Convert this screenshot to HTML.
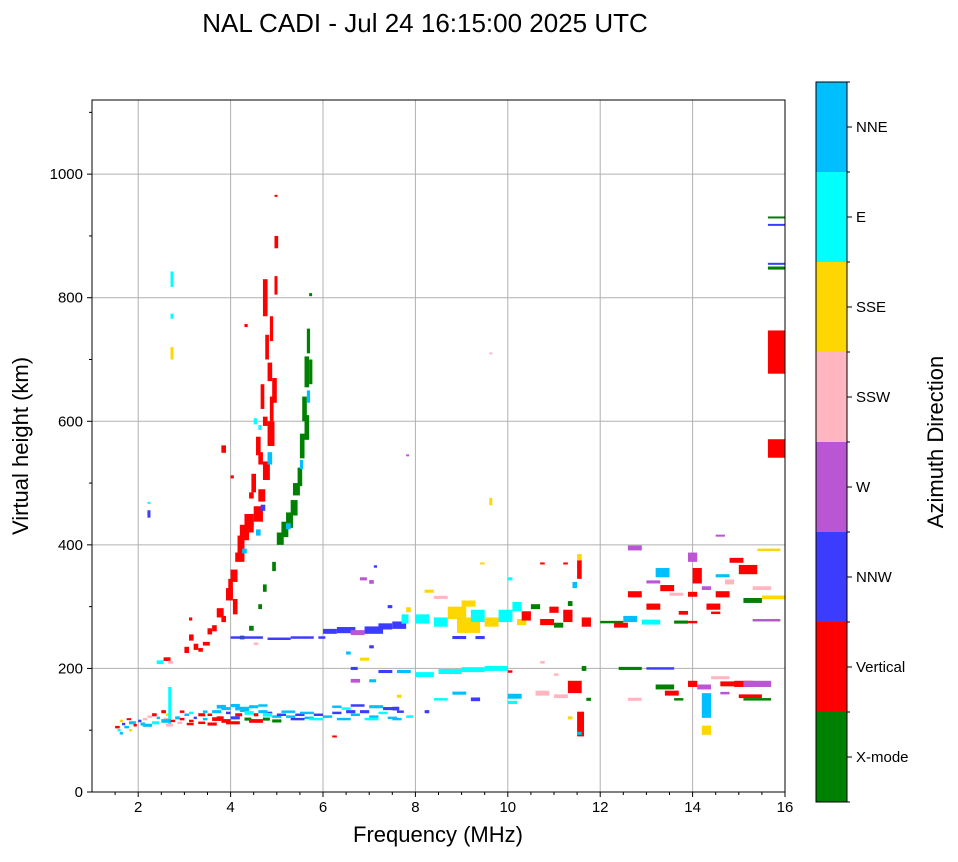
<!DOCTYPE html>
<html><head><meta charset="utf-8"><style>
body{margin:0;background:#fff;}
svg text{font-family:"Liberation Sans",sans-serif;}
</style></head><body>
<svg id="chart" width="958" height="857" viewBox="0 0 958 857" xmlns="http://www.w3.org/2000/svg">
<rect width="958" height="857" fill="#fff"/>
<text x="425" y="32" font-size="26" text-anchor="middle">NAL CADI - Jul 24 16:15:00 2025 UTC</text>
<g id="grid"></g>
<g id="marks"></g>
<rect x="92" y="100" width="693" height="692" fill="none" stroke="#000" stroke-width="1"/>
<g id="axes"></g>
<text x="438" y="842" font-size="22" text-anchor="middle">Frequency (MHz)</text>
<text transform="translate(28,446) rotate(-90)" font-size="22" text-anchor="middle">Virtual height (km)</text>
<g id="cbar"></g>
<text transform="translate(943,442) rotate(-90)" font-size="22" text-anchor="middle">Azimuth Direction</text>
</svg>
<script>
const directions=["X-mode","Vertical","NNW","W","SSW","SSE","E","NNE"];
const dirColors=["#008000","#ff0000","#3c3cff","#ba55d3","#ffb6c1","#ffd700","#00ffff","#00bfff"];
const xTicks=[2,4,6,8,10,12,14,16];
const yTicks=[0,200,400,600,800,1000];
// echoes: [frequency MHz, height km, direction index, freq width MHz, height span km]
const echoes=[
[1.5,105,1,0.1,4],[1.55,100,6,0.07,4],[1.6,95,7,0.07,4],[1.65,110,2,0.07,4],[1.7,105,7,0.1,4],[1.8,112,7,0.15,5],[1.8,100,5,0.07,4],[1.9,108,1,0.07,4],[2.0,115,2,0.07,4],[2.05,110,7,0.1,5],[2.1,118,4,0.1,4],[2.2,122,4,0.1,4],[2.3,125,1,0.1,5],[2.4,120,7,0.07,4],[2.5,130,1,0.1,5],[2.55,118,4,0.15,4],[2.6,125,5,0.07,4],[2.65,140,6,0.05,60],[2.7,115,1,0.1,4],[2.8,120,7,0.1,5],[2.85,112,4,0.1,4],[2.9,118,1,0.1,4],[3.0,125,7,0.1,4],[3.05,110,1,0.15,4],[3.1,115,1,0.1,4],[3.2,120,2,0.07,4],[3.3,112,1,0.15,4],[3.4,118,7,0.1,4],[3.5,125,1,0.1,4],[3.5,110,1,0.2,5],[3.6,130,7,0.2,5],[3.7,120,1,0.15,5],[3.8,135,7,0.2,5],[3.9,128,2,0.1,4],[3.9,112,1,0.3,5],[4.0,140,7,0.2,5],[4.1,125,1,0.15,5],[4.2,132,7,0.2,5],[4.3,118,0,0.15,5],[4.4,138,7,0.2,5],[4.5,125,1,0.1,5],[4.6,130,7,0.2,5],[4.7,118,0,0.15,5],[4.8,128,2,0.1,4],[4.9,122,7,0.2,4],[5.0,125,2,0.2,4],[5.2,122,7,0.2,4],[5.4,125,2,0.2,4],[5.6,120,7,0.2,4],[5.8,125,2,0.2,4],[6.0,122,7,0.2,4],[6.2,128,2,0.2,4],[6.2,138,7,0.2,4],[6.4,135,6,0.2,4],[6.5,130,2,0.2,5],[6.6,125,7,0.2,4],[6.8,130,2,0.2,5],[7.0,122,7,0.2,4],[7.2,128,6,0.2,4],[7.4,120,7,0.2,4],[7.6,130,2,0.15,4],[7.8,122,6,0.15,4],[6.2,90,1,0.1,3],
[1.6,115,5,0.07,4],[1.75,118,1,0.1,3],[2.1,108,7,0.2,5],[2.3,112,6,0.15,5],[2.5,115,7,0.2,6],[2.6,108,4,0.15,4],[2.9,130,1,0.1,4],[3.1,128,6,0.1,4],[3.3,125,1,0.15,5],[3.4,130,7,0.1,4],[3.6,118,1,0.2,6],[3.7,138,7,0.2,6],[3.8,115,1,0.2,6],[4.0,120,2,0.2,5],[4.1,135,7,0.3,6],[4.3,128,6,0.2,6],[4.4,115,1,0.3,6],[4.6,140,7,0.2,4],[4.7,125,6,0.2,6],[4.9,115,0,0.2,5],[5.1,130,7,0.3,4],[5.3,118,2,0.3,4],[5.5,128,7,0.3,4],[5.7,118,6,0.3,4],[6.3,118,7,0.3,4],[6.6,140,2,0.3,4],[6.9,118,6,0.3,4],[7.0,138,7,0.3,5],[7.3,135,2,0.3,5],[7.5,118,7,0.2,4],
[2.4,210,6,0.15,6],[2.55,215,1,0.15,6],[2.65,210,4,0.1,5],[2.7,830,6,0.05,25],[2.7,710,5,0.05,20],[2.7,770,6,0.05,8],[2.2,450,2,0.05,12],[2.2,468,6,0.05,3],
[3.0,230,1,0.1,10],[3.1,250,1,0.1,10],[3.1,280,1,0.07,5],[3.2,235,1,0.1,10],[3.3,230,1,0.1,6],[3.4,240,1,0.15,6],[3.5,260,1,0.1,10],[3.6,265,1,0.1,10],[3.7,290,1,0.15,15],[3.8,280,1,0.1,10],[3.8,555,1,0.1,12],[3.9,320,1,0.15,20],[4.0,350,1,0.15,20],[4.0,510,1,0.07,5],[4.1,380,1,0.2,15],[4.2,420,1,0.2,25],[4.3,440,1,0.2,20],[4.3,755,1,0.07,5],[4.4,480,1,0.1,10],[4.5,450,1,0.2,25],[4.6,480,1,0.15,20],[4.6,540,1,0.1,20],[4.65,460,2,0.1,10],[4.7,520,1,0.15,30],[4.7,600,1,0.1,15],[4.7,800,1,0.1,60],[4.8,580,1,0.15,40],[4.8,680,1,0.1,30],[4.85,750,1,0.07,40],[4.9,650,1,0.1,40],[4.95,890,1,0.08,20],[4.95,965,1,0.05,3],[4.5,600,6,0.07,10],[4.8,540,7,0.1,20],
[3.95,330,1,0.1,30],[4.05,300,1,0.1,25],[4.15,400,1,0.15,30],[4.35,430,1,0.15,20],[4.45,500,1,0.1,30],[4.55,560,1,0.1,30],[4.65,640,1,0.08,40],[4.75,720,1,0.08,40],[4.85,620,1,0.08,40],[4.95,820,1,0.05,30],[4.55,420,7,0.1,10],[4.25,390,7,0.1,8],[4.6,590,6,0.07,8],
[4.2,250,0,0.1,6],[4.4,265,0,0.1,8],[4.6,300,0,0.08,8],[4.7,330,0,0.08,12],[4.9,365,0,0.08,15],[5.0,410,0,0.15,20],[5.1,425,0,0.15,25],[5.2,440,0,0.15,25],[5.3,460,0,0.15,25],[5.35,490,0,0.15,20],[5.45,510,0,0.1,30],[5.5,560,0,0.1,40],[5.55,620,0,0.1,40],[5.6,680,0,0.1,50],[5.65,730,0,0.07,40],[5.7,805,0,0.05,5],[5.2,430,7,0.1,10],[5.5,530,7,0.07,15],[5.65,640,7,0.07,20],[5.6,590,0,0.1,40],[5.7,680,0,0.07,40],
[4.0,250,2,0.7,4],[4.8,248,2,0.5,4],[5.3,250,2,0.5,4],[5.9,250,2,0.15,4],[4.5,240,4,0.1,4],
[6.0,260,2,0.3,8],[6.3,262,2,0.4,10],[6.6,258,3,0.3,8],[6.9,262,2,0.4,12],[7.2,268,2,0.3,10],[7.5,270,2,0.3,12],[7.7,280,6,0.15,15],[7.8,295,5,0.1,8],[7.0,340,3,0.1,6],[6.8,345,3,0.15,5],[7.1,365,2,0.07,4],[7.4,300,2,0.1,5],[6.6,200,2,0.15,5],[6.8,215,5,0.2,5],[7.0,235,2,0.1,5],[6.5,225,7,0.1,5],[7.2,195,2,0.3,5],[7.6,195,7,0.3,5],[6.6,180,3,0.2,6],[7.0,180,7,0.15,5],[7.6,155,5,0.1,5],[7.5,135,2,0.15,6],
[8.0,280,6,0.3,15],[8.4,275,6,0.3,15],[8.7,290,5,0.4,20],[8.9,270,5,0.5,25],[9.0,305,5,0.3,10],[9.2,285,6,0.3,20],[9.5,275,5,0.3,15],[9.8,285,6,0.3,20],[10.1,300,6,0.2,15],[10.2,275,5,0.2,10],[9.3,250,2,0.2,5],[8.8,250,2,0.3,5],[8.4,315,4,0.3,5],[8.2,325,5,0.2,5],[9.4,370,5,0.1,3],[10.0,345,6,0.1,5],[9.6,470,5,0.05,12],[9.6,710,4,0.05,3],[7.8,545,3,0.05,3],
[8.0,190,6,0.4,8],[8.5,195,6,0.5,8],[9.0,198,6,0.5,8],[9.5,200,6,0.5,8],[8.8,160,7,0.3,5],[9.2,150,2,0.2,6],[8.4,150,6,0.3,4],[10.0,155,7,0.3,8],[10.0,145,6,0.2,5],[8.2,130,2,0.1,5],[10.0,195,1,0.1,4],
[10.3,285,1,0.2,15],[10.5,300,0,0.2,8],[10.7,275,1,0.3,10],[10.9,295,1,0.2,10],[11.0,270,0,0.2,8],[11.2,285,1,0.2,20],[11.3,305,0,0.1,8],[11.4,335,7,0.1,10],[11.5,360,1,0.1,30],[11.5,380,5,0.1,10],[11.2,370,1,0.1,3],[10.7,370,1,0.1,3],[11.6,275,1,0.2,15],[12.0,275,0,0.5,4],
[10.6,160,4,0.3,8],[11.0,155,4,0.3,6],[11.3,170,1,0.3,20],[11.5,110,1,0.15,40],[11.5,95,7,0.1,5],[11.3,120,5,0.1,5],[11.6,200,0,0.1,8],[11.0,190,4,0.1,4],[10.7,210,4,0.1,4],[11.7,150,0,0.1,5],
[12.3,270,1,0.3,8],[12.5,280,7,0.3,10],[12.6,320,1,0.3,10],[12.6,395,3,0.3,8],[12.9,275,6,0.4,8],[13.0,300,1,0.3,10],[13.0,340,3,0.3,5],[13.2,355,7,0.3,15],[13.3,330,1,0.3,10],[13.5,320,4,0.3,5],[13.6,275,0,0.3,5],[13.7,290,1,0.2,6],[13.9,380,3,0.2,15],[14.0,350,1,0.2,25],[13.9,320,1,0.2,8],[13.9,275,1,0.2,4],[14.2,330,3,0.2,6],[14.3,300,1,0.3,10],[14.5,320,1,0.3,10],[14.5,415,3,0.2,3],[14.5,350,7,0.3,5],[14.7,340,4,0.2,8],[14.8,375,1,0.3,8],[15.0,360,1,0.4,15],[15.1,310,0,0.4,8],[15.3,330,4,0.4,6],[15.4,392,5,0.5,4],[15.5,315,5,0.5,6],[15.3,278,3,0.6,4],[14.4,290,1,0.2,4],
[12.4,200,0,0.5,5],[12.6,150,4,0.3,5],[13.0,200,2,0.6,4],[13.2,170,0,0.4,8],[13.4,160,1,0.3,8],[13.6,150,0,0.2,4],[13.9,175,1,0.2,10],[14.1,170,3,0.3,8],[14.2,140,7,0.2,40],[14.2,100,5,0.2,15],[14.4,185,4,0.4,5],[14.6,175,1,0.4,8],[14.6,160,3,0.2,4],[14.9,175,1,0.4,10],[15.1,175,3,0.6,10],[15.0,155,1,0.5,6],[15.1,150,0,0.6,4],
[15.63,712,1,0.37,70],[15.63,556,1,0.37,30],[15.63,930,0,0.37,3],[15.63,918,2,0.37,3],[15.63,855,2,0.37,3],[15.63,848,0,0.37,5]
];
const X0=92,X1=785,Y0=792,Y1=100;
const xs=f=>X0+(f-1)/(16-1)*(X1-X0);
const ys=h=>Y0-h/1120*(Y0-Y1);
const NS="http://www.w3.org/2000/svg";
function mk(tag,attrs,parent){const e=document.createElementNS(NS,tag);for(const k in attrs)e.setAttribute(k,attrs[k]);parent.appendChild(e);return e;}
const grid=document.getElementById('grid'),axes=document.getElementById('axes'),marks=document.getElementById('marks'),cbar=document.getElementById('cbar');
xTicks.forEach(t=>{
  const x=xs(t);
  if(t<16){const g=mk('line',{x1:x,x2:x,y1:Y1,y2:Y0,stroke:'#b0b0b0','stroke-width':1},grid);
  
  }
  mk('line',{x1:x,x2:x,y1:Y0,y2:Y0+5,stroke:'#000'},axes);
  const tx=mk('text',{x:x,y:Y0+20,'font-size':15,'text-anchor':'middle'},axes);tx.textContent=t;
  
  
});
for(let m=1.5;m<16;m+=0.5){if(m%2!==0)mk('line',{x1:xs(m),x2:xs(m),y1:Y0,y2:Y0+3,stroke:'#000'},axes);}
for(let h=100;h<1120;h+=100){if(h%200!==0)mk('line',{x1:X0-3,x2:X0,y1:ys(h),y2:ys(h),stroke:'#000'},axes);}
yTicks.forEach(t=>{
  const y=ys(t);
  if(t>0){const g=mk('line',{x1:X0,x2:X1,y1:y,y2:y,stroke:'#b0b0b0','stroke-width':1},grid);
  
  }
  mk('line',{x1:X0-5,x2:X0,y1:y,y2:y,stroke:'#000'},axes);
  const tx=mk('text',{x:X0-9,y:y+5,'font-size':15,'text-anchor':'end'},axes);tx.textContent=t;
  
  
});
echoes.forEach(e=>{
  const [f,h,c,w,s]=e;
  const r=mk('rect',{x:xs(f),y:ys(h+s/2),width:Math.max(3,w/15*(X1-X0)),height:Math.max(2,s/1120*(Y0-Y1)),fill:dirColors[c]},marks);
  
  
});
const CB_X=816,CB_W=31,CB_T=82,CB_B=802,seg=(CB_B-CB_T)/directions.length;
directions.forEach((d,i)=>{
  const y=CB_B-(i+1)*seg;
  const r=mk('rect',{x:CB_X,y:y,width:CB_W,height:seg,fill:dirColors[i]},cbar);
  
  
  mk('line',{x1:CB_X+CB_W,x2:CB_X+CB_W+5,y1:y+seg/2,y2:y+seg/2,stroke:'#000'},cbar);
  const tx=mk('text',{x:CB_X+CB_W+9,y:y+seg/2+5,'font-size':15},cbar);tx.textContent=d;
  
  
});
for(let i=0;i<=directions.length;i++){mk('line',{x1:CB_X+CB_W,x2:CB_X+CB_W+3,y1:CB_T+i*seg,y2:CB_T+i*seg,stroke:'#000'},cbar);}
mk('rect',{x:CB_X,y:CB_T,width:CB_W,height:CB_B-CB_T,fill:'none',stroke:'#000'},cbar);
</script>
</body></html>
